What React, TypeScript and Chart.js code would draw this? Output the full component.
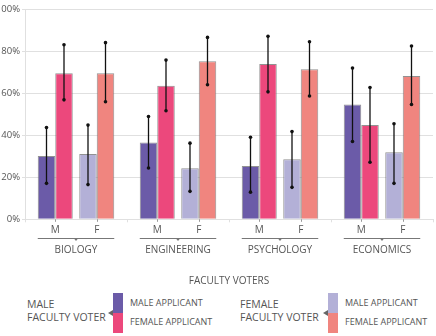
import React, { useEffect, useRef } from "react";
import { Chart, registerables } from "chart.js";

Chart.register(...registerables);

// ---------- data ----------
const disciplines = ["BIOLOGY", "ENGINEERING", "PSYCHOLOGY", "ECONOMICS"];
const voterLabels = ["M", "F"];
const axisTitle = "FACULTY VOTERS";
const yTickValues = [0, 20, 40, 60, 80, 100];

const seriesNames = [
  "Male voter / male applicant",
  "Male voter / female applicant",
  "Female voter / male applicant",
  "Female voter / female applicant",
];

const maleVoterMaleApp = [30.1, 36.5, 25.4, 54.6];
const maleVoterMaleAppLow = [17.1, 24.4, 12.9, 37.0];
const maleVoterMaleAppHigh = [43.6, 48.9, 39.0, 71.9];

const maleVoterFemaleApp = [69.5, 63.5, 73.8, 44.8];
const maleVoterFemaleAppLow = [56.8, 51.6, 60.6, 27.1];
const maleVoterFemaleAppHigh = [83.0, 75.7, 87.0, 62.7];

const femaleVoterMaleApp = [31.1, 24.3, 28.6, 31.9];
const femaleVoterMaleAppLow = [16.5, 13.3, 15.2, 17.1];
const femaleVoterMaleAppHigh = [44.8, 36.2, 41.7, 45.4];

const femaleVoterFemaleApp = [69.5, 75.2, 71.4, 68.1];
const femaleVoterFemaleAppLow = [55.9, 64.0, 58.6, 54.6];
const femaleVoterFemaleAppHigh = [84.0, 86.5, 84.4, 82.4];

const seriesColors = ["#6b5ba8", "#ec487c", "#b3b0d7", "#f0857f"];

// ---------- layout constants ----------
const FONT = "'Open Sans', sans-serif";
const TEXT = "#555";
const GRID = "#e0e0e0";
const CAT_W = 102; // expected category width in px
const BAR_W = 17.5;
const INNER = 12; // offset of inner bars from category centre
const OUTER = 29.5; // offset of outer bars from category centre

const outerCP = OUTER / (0.375 * CAT_W);
const outerBP = BAR_W / ((CAT_W * outerCP) / 4);
const innerCP = INNER / (0.125 * CAT_W);
const innerBP = BAR_W / ((CAT_W * innerCP) / 4);

const values = [maleVoterMaleApp, maleVoterFemaleApp, femaleVoterMaleApp, femaleVoterFemaleApp];
const lows = [maleVoterMaleAppLow, maleVoterFemaleAppLow, femaleVoterMaleAppLow, femaleVoterFemaleAppLow];
const highs = [maleVoterMaleAppHigh, maleVoterFemaleAppHigh, femaleVoterMaleAppHigh, femaleVoterFemaleAppHigh];

const errorBars = {
  id: "errorBars",
  afterDatasetsDraw(chart: any) {
    const ctx = chart.ctx;
    const y = chart.scales.y;
    ctx.save();
    ctx.strokeStyle = "#111";
    ctx.fillStyle = "#111";
    ctx.lineWidth = 1.3;
    values.forEach((_, i) => {
      const meta = chart.getDatasetMeta(i);
      meta.data.forEach((el: any, j: number) => {
        const x = el.x;
        const yl = y.getPixelForValue(lows[i][j]);
        const yh = y.getPixelForValue(highs[i][j]);
        ctx.beginPath();
        ctx.moveTo(x, yl);
        ctx.lineTo(x, yh);
        ctx.stroke();
        [yl, yh].forEach((yy) => {
          ctx.beginPath();
          ctx.arc(x, yy, 1.8, 0, Math.PI * 2);
          ctx.fill();
        });
      });
    });
    ctx.restore();
  },
};

const groupLabels = {
  id: "groupLabels",
  afterDraw(chart: any) {
    const ctx = chart.ctx;
    const bottom = chart.chartArea.bottom;
    const m0 = chart.getDatasetMeta(0).data;
    const m1 = chart.getDatasetMeta(1).data;
    const m2 = chart.getDatasetMeta(2).data;
    const m3 = chart.getDatasetMeta(3).data;
    ctx.save();
    ctx.font = `10px ${FONT}`;
    ctx.fillStyle = TEXT;
    ctx.textAlign = "center";
    ctx.textBaseline = "middle";
    for (let j = 0; j < m0.length; j++) {
      const mx = (m0[j].x + m1[j].x) / 2;
      const fx = (m2[j].x + m3[j].x) / 2;
      // small ticks
      ctx.strokeStyle = "#999";
      ctx.lineWidth = 1;
      [mx, fx].forEach((xx) => {
        ctx.beginPath();
        ctx.moveTo(Math.round(xx) + 0.5, bottom);
        ctx.lineTo(Math.round(xx) + 0.5, bottom + 2.5);
        ctx.stroke();
      });
      ctx.fillText(voterLabels[0], mx, bottom + 11);
      ctx.fillText(voterLabels[1], fx, bottom + 11);
      // underline
      const left = m0[j].x - m0[j].width / 2;
      const right = m3[j].x + m3[j].width / 2;
      const ly = Math.round(bottom + 19) + 0.5;
      ctx.strokeStyle = "#777";
      ctx.beginPath();
      ctx.moveTo(left, ly);
      ctx.lineTo(right, ly);
      ctx.stroke();
      const cx = (left + right) / 2;
      ctx.fillStyle = "#777";
      ctx.beginPath();
      ctx.moveTo(cx - 2, ly);
      ctx.lineTo(cx + 2, ly);
      ctx.lineTo(cx, ly + 2.5);
      ctx.closePath();
      ctx.fill();
      ctx.fillStyle = TEXT;
    }
    ctx.restore();
  },
};

function LegendBlock(props: {
  left: number;
  title: string[];
  colors: string[];
  swatchLeft: number;
  labels: string[];
}) {
  const { left, title, colors, swatchLeft, labels } = props;
  return (
    <>
      <div style={{ position: "absolute", left, top: 298, fontSize: 10.5, lineHeight: "13px", color: TEXT, whiteSpace: "nowrap" }}>
        {title.map((t) => (
          <div key={t}>{t}</div>
        ))}
      </div>
      <div
        style={{
          position: "absolute",
          left: swatchLeft - 5,
          top: 310,
          width: 0,
          height: 0,
          borderTop: "3.5px solid transparent",
          borderBottom: "3.5px solid transparent",
          borderRight: "5px solid #666",
        }}
      />
      <div style={{ position: "absolute", left: swatchLeft, top: 293, width: 10, height: 20, background: colors[0] }} />
      <div style={{ position: "absolute", left: swatchLeft, top: 313, width: 10, height: 20, background: colors[1] }} />
      <div style={{ position: "absolute", left: swatchLeft + 17, top: 297, fontSize: 9, lineHeight: "12px", color: TEXT, whiteSpace: "nowrap" }}>
        {labels[0]}
      </div>
      <div style={{ position: "absolute", left: swatchLeft + 17, top: 316, fontSize: 9, lineHeight: "12px", color: TEXT, whiteSpace: "nowrap" }}>
        {labels[1]}
      </div>
    </>
  );
}

export default function App() {
  const canvasRef = useRef<HTMLCanvasElement | null>(null);

  useEffect(() => {
    document.body.style.margin = "0";
    const canvas = canvasRef.current;
    if (!canvas) return;
    const cps = [outerCP, innerCP, innerCP, outerCP];
    const bps = [outerBP, innerBP, innerBP, outerBP];
    const chart = new Chart(canvas, {
      type: "bar",
      data: {
        labels: disciplines,
        datasets: values.map((v, i) => ({
          label: seriesNames[i],
          data: v,
          backgroundColor: seriesColors[i],
          borderColor: "rgba(110,110,110,0.75)",
          borderWidth: 1,
          categoryPercentage: cps[i],
          barPercentage: bps[i],
        })),
      },
      options: {
        animation: false,
        responsive: true,
        maintainAspectRatio: false,
        layout: { padding: { top: 9, right: 3, left: 0, bottom: 0 } },
        plugins: { legend: { display: false }, tooltip: { enabled: false } },
        scales: {
          x: {
            offset: true,
            grid: { display: true, drawOnChartArea: false, tickLength: 3, color: GRID },
            border: { display: true, color: GRID },
            ticks: { color: TEXT, font: { family: FONT, size: 10 }, padding: 22 },
            title: {
              display: true,
              text: axisTitle,
              color: TEXT,
              font: { family: FONT, size: 10 },
              padding: { top: 4, bottom: 3 },
            },
            afterFit: (s: any) => {
              s.height = 290 - 219.3;
            },
          },
          y: {
            min: 0,
            max: 100,
            afterBuildTicks: (s: any) => {
              s.ticks = yTickValues.map((v) => ({ value: v }));
            },
            grid: { color: GRID, tickLength: 3 },
            border: { display: true, color: GRID },
            ticks: {
              color: TEXT,
              font: { family: FONT, size: 9.5 },
              padding: 2,
              callback: (v: any) => `${v}%`,
            },
            afterFit: (s: any) => {
              s.width = 25;
            },
          },
        },
      },
      plugins: [errorBars, groupLabels],
    });
    return () => chart.destroy();
  }, []);

  return (
    <div style={{ position: "relative", width: 436, height: 336, fontFamily: FONT, overflow: "hidden" }}>
      <div style={{ position: "absolute", left: 0, top: 0, width: 436, height: 290 }}>
        <canvas ref={canvasRef} />
      </div>
      <LegendBlock
        left={27}
        title={["MALE", "FACULTY VOTER"]}
        colors={[seriesColors[0], seriesColors[1]]}
        swatchLeft={113}
        labels={["MALE APPLICANT", "FEMALE APPLICANT"]}
      />
      <LegendBlock
        left={240}
        title={["FEMALE", "FACULTY VOTER"]}
        colors={[seriesColors[2], seriesColors[3]]}
        swatchLeft={328}
        labels={["MALE APPLICANT", "FEMALE APPLICANT"]}
      />
    </div>
  );
}
